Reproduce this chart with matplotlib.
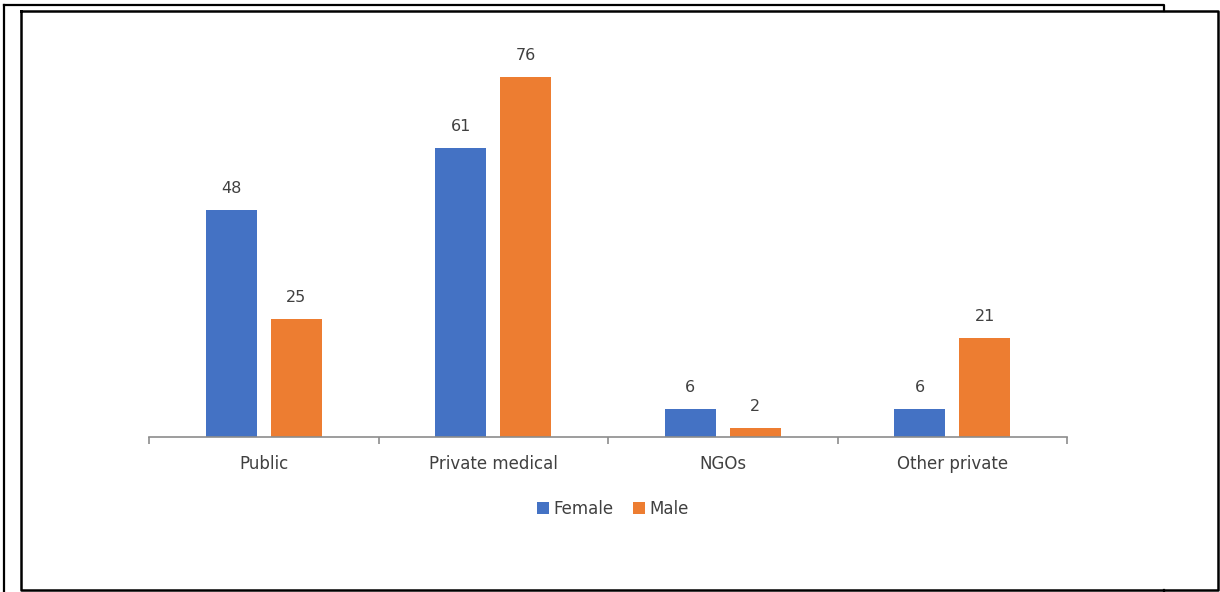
import matplotlib.pyplot as plt
from matplotlib.lines import Line2D
import numpy as np

categories = ["Public", "Private medical", "NGOs", "Other private"]
female = [48, 61, 6, 6]
male = [25, 76, 2, 21]

W, H = 1220, 592
fig = plt.figure(figsize=(W / 100, H / 100), dpi=100)

# plot area in pixel terms
left, right, base, top = 149, 1067, 437, 29.6
ax = fig.add_axes([left / W, (H - base) / H, (right - left) / W, (base - top) / H])

x = np.arange(len(categories))
bw = 0.222
off = 0.1416
text_col = "#404040"

b1 = ax.bar(x - off, female, bw, color="#4472C4", label="Female")
b2 = ax.bar(x + off, male, bw, color="#ED7D31", label="Male")
for bars in (b1, b2):
    ax.bar_label(bars, padding=10, fontsize=11.5, color=text_col)

ax.set_xlim(-0.5, len(categories) - 0.5)
ax.set_ylim(0, 86)
ax.set_yticks([])
for s in ("top", "right", "left"):
    ax.spines[s].set_visible(False)
ax.spines["bottom"].set_color("#8c8c8c")
ax.spines["bottom"].set_linewidth(1.2)

# category labels centred, ticks on the boundaries
ax.set_xticks(x)
ax.set_xticklabels(categories, fontsize=12, color=text_col)
ax.tick_params(axis="x", which="major", length=0, pad=13)
ax.set_xticks(np.arange(len(categories) + 1) - 0.5, minor=True)
ax.tick_params(axis="x", which="minor", length=5, width=1.2, color="#8c8c8c")

fig.legend(handles=[b1, b2], labels=["Female", "Male"], loc="center",
           bbox_to_anchor=(613 / W, (H - 509) / H), ncol=2, frameon=False,
           fontsize=12, labelcolor=text_col, handlelength=0.7, handleheight=0.7,
           handletextpad=0.25, columnspacing=1.2)

# page frame lines
def px_line(xs, ys, lw=1.6):
    fig.add_artist(Line2D([v / W for v in xs], [1 - v / H for v in ys],
                          color="black", linewidth=lw, transform=fig.transFigure))

px_line([4, 1164, 1164], [5, 5, 11])
px_line([4, 4], [5, 592])
px_line([21, 1218, 1218, 21, 21], [11, 11, 590, 590, 11], lw=1.8)
px_line([1164, 1164], [590, 592])

fig.savefig("out.png", dpi=100)
